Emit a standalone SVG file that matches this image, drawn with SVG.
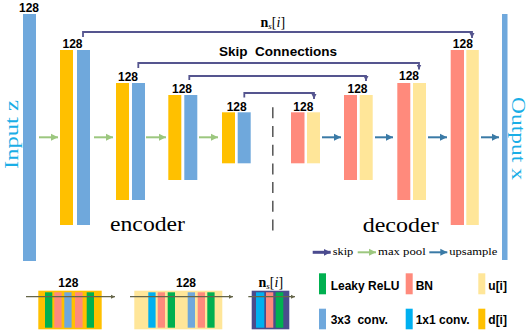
<svg xmlns="http://www.w3.org/2000/svg" width="530" height="332" viewBox="0 0 530 332">
<style>
.lbl{font-family:"Liberation Sans",Arial,sans-serif;font-weight:bold;font-size:12px;fill:#000;text-anchor:middle}
.leg{font-family:"Liberation Sans",Arial,sans-serif;font-weight:bold;font-size:12px;fill:#000}
.ser{font-family:"Liberation Serif","Times New Roman",serif;fill:#000}
.cy{font-family:"Liberation Serif","Times New Roman",serif;fill:#1aaee6;font-size:18px}
.y{fill:#ffc000}.b{fill:#6fa8dc}.r{fill:#ff8a7c}.ly{fill:#ffe699}.g{fill:#00b050}.c{fill:#00b0f0}.n{fill:#4a4c8c}
.ga{stroke:#9cc77f;stroke-width:2;fill:none}
.ba{stroke:#3a7aa6;stroke-width:2;fill:none}
.sk{stroke:#55558f;stroke-width:1.8;fill:none}
.ol{stroke:#66664a;stroke-width:1.2;fill:none}
</style>
<defs>
<marker id="mg" markerWidth="8" markerHeight="8" refX="7" refY="4" orient="auto" markerUnits="userSpaceOnUse"><path d="M0,0.5 L7,4 L0,7.5 z" fill="#9cc77f"/></marker>
<marker id="mb" markerWidth="8" markerHeight="8" refX="7" refY="4" orient="auto" markerUnits="userSpaceOnUse"><path d="M0,0.5 L7,4 L0,7.5 z" fill="#3a7aa6"/></marker>
<marker id="ms" markerWidth="6" markerHeight="6" refX="5" refY="3" orient="auto" markerUnits="userSpaceOnUse"><path d="M0,0.5 L5,3 L0,5.5 z" fill="#55558f"/></marker>
<marker id="msl" markerWidth="8" markerHeight="8" refX="7" refY="4" orient="auto" markerUnits="userSpaceOnUse"><path d="M0,0.5 L7,4 L0,7.5 z" fill="#4b4b8f"/></marker>
<marker id="mo" markerWidth="5" markerHeight="5" refX="4" refY="2.5" orient="auto" markerUnits="userSpaceOnUse"><path d="M0,0.5 L4,2.5 L0,4.5 z" fill="#66664a"/></marker>
</defs>

<g id="input">
<rect class="b" x="23" y="14" width="13" height="247"/>
<text class="lbl" x="29" y="11.7">128</text>
<text class="cy" transform="translate(17.5,169) rotate(-90)" textLength="69" lengthAdjust="spacingAndGlyphs">Input z</text>
</g>

<g id="enc1">
<rect class="y" x="60" y="50" width="13" height="175"/>
<rect class="b" x="77" y="50" width="13" height="175"/>
<text class="lbl" x="72.5" y="47.7">128</text>
</g>
<g id="enc2">
<rect class="y" x="116" y="83" width="13" height="117"/>
<rect class="b" x="132" y="83" width="13" height="117"/>
<text class="lbl" x="128" y="80.7">128</text>
</g>
<g id="enc3">
<rect class="y" x="168.3" y="95" width="13" height="85"/>
<rect class="b" x="184.3" y="95" width="13" height="85"/>
<text class="lbl" x="182" y="93.3">128</text>
</g>
<g id="enc4">
<rect class="y" x="222" y="112.3" width="13" height="51"/>
<rect class="b" x="237.7" y="112.3" width="13" height="51"/>
<text class="lbl" x="236.7" y="110.7">128</text>
</g>

<g id="dec4">
<rect class="r" x="291" y="112.3" width="13.5" height="51"/>
<rect class="ly" x="307" y="112.3" width="13" height="51"/>
<text class="lbl" x="303.3" y="110.7">128</text>
</g>
<g id="dec3">
<rect class="r" x="344" y="95" width="13" height="85"/>
<rect class="ly" x="359.7" y="95" width="13" height="85"/>
<text class="lbl" x="357.5" y="92.5">128</text>
</g>
<g id="dec2">
<rect class="r" x="397.3" y="83" width="13" height="117"/>
<rect class="ly" x="413" y="83" width="13" height="117"/>
<text class="lbl" x="409" y="80.3">128</text>
</g>
<g id="dec1">
<rect class="r" x="450.7" y="50" width="13.3" height="175"/>
<rect class="ly" x="466.3" y="50" width="12.5" height="175"/>
<text class="lbl" x="462.8" y="47.7">128</text>
</g>

<g id="output">
<rect class="b" x="502" y="14" width="5.5" height="246"/>
<text class="cy" transform="translate(511.5,97) rotate(90)" textLength="83" lengthAdjust="spacingAndGlyphs">Output x</text>
</g>

<g id="connectors">
<line class="ga" x1="39" y1="137.3" x2="58" y2="137.3" marker-end="url(#mg)"/>
<line class="ga" x1="94" y1="137.3" x2="113" y2="137.3" marker-end="url(#mg)"/>
<line class="ga" x1="146" y1="137.3" x2="166" y2="137.3" marker-end="url(#mg)"/>
<line class="ga" x1="199" y1="137.3" x2="218" y2="137.3" marker-end="url(#mg)"/>
<line class="ba" x1="322" y1="137.3" x2="341" y2="137.3" marker-end="url(#mb)"/>
<line class="ba" x1="375" y1="137.3" x2="393" y2="137.3" marker-end="url(#mb)"/>
<line class="ba" x1="428" y1="137.3" x2="447" y2="137.3" marker-end="url(#mb)"/>
<line class="ba" x1="481" y1="137.3" x2="499" y2="137.3" marker-end="url(#mb)"/>
<path class="sk" d="M83,37 V32 H472 V38" marker-end="url(#ms)"/>
<path class="sk" d="M138.3,68 V63 H419 V69.5" marker-end="url(#ms)"/>
<path class="sk" d="M189.3,80 V76 H366 V81" marker-end="url(#ms)"/>
<path class="sk" d="M244.3,97.5 V93 H314 V99" marker-end="url(#ms)"/>
</g>

<line x1="272.8" y1="107.3" x2="272.8" y2="232" stroke="#555" stroke-width="1.5" stroke-dasharray="11 7.7"/>

<text class="ser" x="260.5" y="26.5" font-size="14"><tspan font-weight="bold">n</tspan><tspan font-style="italic" font-size="9" dy="2.5">s</tspan><tspan dy="-2.5">[</tspan><tspan font-style="italic">i</tspan>]</text>
<text class="leg" x="219" y="56" font-size="13.5" textLength="118" lengthAdjust="spacingAndGlyphs" xml:space="preserve">Skip  Connections</text>

<text class="ser" x="110" y="231" font-size="21" textLength="75" lengthAdjust="spacingAndGlyphs">encoder</text>
<text class="ser" x="362.7" y="231.7" font-size="21" textLength="76" lengthAdjust="spacingAndGlyphs">decoder</text>

<g id="legend-arrows">
<line x1="312.7" y1="252.3" x2="330.7" y2="252.3" stroke="#4b4b8f" stroke-width="3" marker-end="url(#msl)"/>
<text class="ser" x="332.7" y="254.8" font-size="10.5" textLength="20.6" lengthAdjust="spacingAndGlyphs">skip</text>
<line x1="357.7" y1="252.3" x2="376" y2="252.3" class="ga" marker-end="url(#mg)"/>
<text class="ser" x="378" y="254.8" font-size="10.5" textLength="47.7" lengthAdjust="spacingAndGlyphs">max pool</text>
<line x1="429.3" y1="252.3" x2="447.3" y2="252.3" class="ba" marker-end="url(#mb)"/>
<text class="ser" x="449.3" y="254.8" font-size="10.5" textLength="48" lengthAdjust="spacingAndGlyphs">upsample</text>
</g>

<g id="block-d">
<rect class="y" x="38.3" y="290.7" width="63.4" height="38.6"/>
<rect class="g" x="45" y="292.3" width="7.3" height="35.4"/>
<rect class="r" x="54.3" y="292.3" width="7.3" height="35.4"/>
<rect class="b" x="64.3" y="292.3" width="7.3" height="35.4"/>
<rect class="r" x="75" y="292.3" width="7.6" height="35.4"/>
<rect class="g" x="86.7" y="292.3" width="7.3" height="35.4"/>
<line class="ol" x1="26" y1="296.7" x2="115" y2="296.7" marker-end="url(#mo)"/>
<text class="lbl" x="68.3" y="286.7">128</text>
</g>
<g id="block-u">
<rect class="ly" x="134.3" y="290.7" width="88" height="38.6"/>
<rect class="c" x="148.3" y="292.3" width="7.3" height="35.4"/>
<rect class="r" x="157.7" y="292.3" width="7.3" height="35.4"/>
<rect class="g" x="167.7" y="292.3" width="7.3" height="35.4"/>
<rect class="b" x="187.7" y="292.3" width="7.3" height="35.4"/>
<rect class="r" x="197.7" y="292.3" width="7.3" height="35.4"/>
<rect class="g" x="207.3" y="292.3" width="7.3" height="35.4"/>
<line class="ol" x1="130" y1="296.7" x2="233" y2="296.7" marker-end="url(#mo)"/>
<text class="lbl" x="186" y="286.7">128</text>
</g>
<g id="block-s">
<rect class="n" x="251.7" y="290.7" width="37.6" height="38.6"/>
<rect class="c" x="256" y="292.3" width="8.3" height="35.4"/>
<rect class="r" x="266" y="292.3" width="7.3" height="35.4"/>
<rect class="g" x="275.7" y="292.3" width="7.6" height="35.4"/>
<line class="ol" x1="248.3" y1="296.7" x2="295" y2="296.7" marker-end="url(#mo)"/>
<text class="ser" x="258.5" y="286.7" font-size="14"><tspan font-weight="bold">n</tspan><tspan font-style="italic" font-size="9" dy="2.5">s</tspan><tspan dy="-2.5">[</tspan><tspan font-style="italic">i</tspan>]</text>
</g>

<g id="legend">
<rect class="g" x="319" y="273.3" width="7" height="21"/>
<text class="leg" x="330.7" y="290">Leaky ReLU</text>
<rect class="r" x="405.7" y="273.3" width="7" height="21"/>
<text class="leg" x="415.7" y="290">BN</text>
<rect class="ly" x="478.3" y="273.3" width="7" height="21"/>
<text class="leg" x="488.3" y="290">u[i]</text>
<rect class="b" x="319" y="308.7" width="7" height="20.6"/>
<text class="leg" x="330.7" y="324.3" xml:space="preserve">3x3  conv.</text>
<rect class="c" x="405.7" y="308.7" width="7" height="20.6"/>
<text class="leg" x="415.7" y="324.3">1x1 conv.</text>
<rect class="y" x="478.3" y="308.7" width="7" height="20.6"/>
<text class="leg" x="488.3" y="324.3">d[i]</text>
</g>
</svg>
